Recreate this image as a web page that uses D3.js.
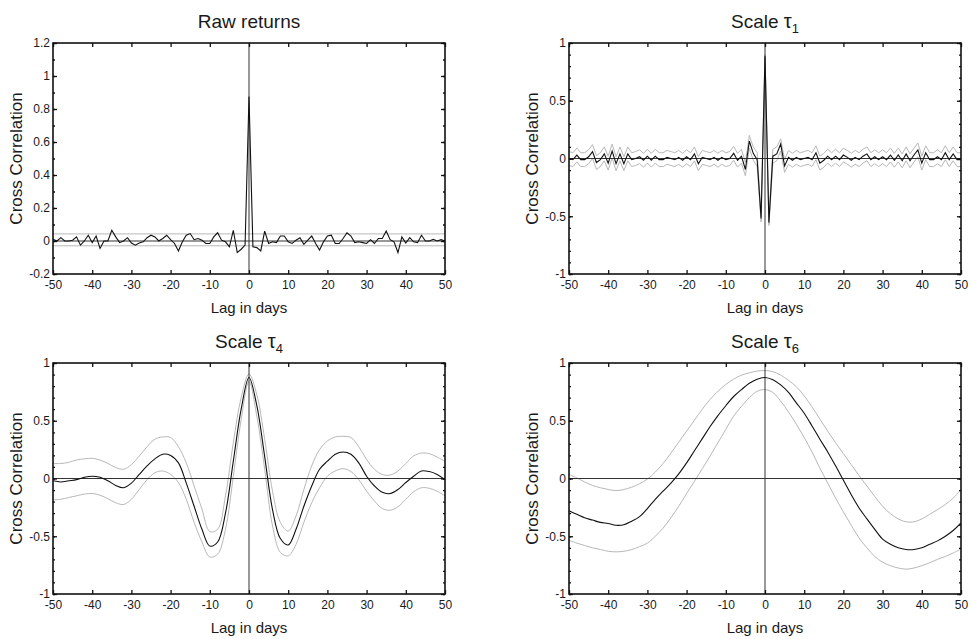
<!DOCTYPE html>
<html>
<head>
<meta charset="utf-8">
<script src="https://cdn.jsdelivr.net/npm/d3@7"></script>
<style>
  body { margin: 0; background: #fff; }
  svg { display: block; font-family: "Liberation Sans", Arial, sans-serif; }
  .tick text { fill: #1a1a1a; }
</style>
</head>
<body>
<svg width="972" height="639"></svg>
<script>
// lags (days)
const lagsDaily = d3.range(-50, 51);
const lagsEven = d3.range(-50, 51, 2);

const xTicks = [-50, -40, -30, -20, -10, 0, 10, 20, 30, 40, 50];
const yTicksRaw = [-0.2, 0, 0.2, 0.4, 0.6, 0.8, 1, 1.2];
const yTicksUnit = [-1, -0.5, 0, 0.5, 1];

// Raw returns: cross correlation per lag, plus the flat confidence band
const rawMain = [
  0.01, 0, 0.02, 0, 0, 0.005, 0.025, -0.025, 0, 0.035,
  -0.01, 0.03, -0.045, 0, 0, 0.065, 0.025, -0.01, 0, 0.02,
  -0.012, -0.025, -0.012, -0.005, 0.02, 0.035, 0.025, 0, 0.015, 0.035,
  0.008, -0.015, -0.06, -0.005, 0.035, 0.045, 0.008, 0.015, 0.005, -0.015,
  -0.015, 0.025, 0.05, 0.005, -0.005, -0.035, 0.065, -0.07, -0.05, -0.025,
  0.875,
  -0.035, -0.04, -0.06, 0.06, -0.015, -0.005, -0.01, 0.03, 0.03, -0.005,
  -0.015, 0.005, 0.02, -0.02, 0.005, 0.03, -0.015, -0.055, -0.005, 0.03,
  0.035, -0.015, -0.015, 0.015, 0.05, 0.03, -0.01, -0.005, -0.01, -0.015,
  0.008, -0.015, 0.015, 0.015, 0.06, 0.008, -0.005, -0.07, 0.025, -0.012,
  0.02, -0.005, -0.01, 0.035, 0, 0, 0.01, 0, 0.008, 0
];
const rawBandLags = [-50, 50];
const rawUpper = [0.043, 0.043];
const rawLower = [-0.029, -0.029];

// Scale tau1
const tau1Main = [
  0, -0.01, 0.03, -0.01, -0.01, 0.015, 0.06, -0.035, -0.01, 0.04,
  -0.04, 0.065, -0.045, 0.04, -0.045, 0.04, -0.01, 0, 0.015, -0.015,
  0.02, -0.015, 0.02, -0.01, -0.01, 0.01, 0, -0.01, 0.01, -0.015,
  0.015, -0.01, 0.04, -0.045, 0.01, 0, -0.01, 0.01, -0.015, 0.01,
  -0.01, 0, 0.045, -0.015, 0.02, -0.095, 0.15, 0.045, -0.01, -0.52,
  0.885,
  -0.555, 0.02, 0.04, 0.125, -0.065, 0.01, -0.015, 0.01, -0.01, 0,
  0.01, -0.01, 0.05, -0.04, -0.015, 0.02, -0.01, 0.02, -0.01, 0.03,
  0.01, -0.015, 0.01, -0.01, 0.02, 0.04, -0.01, 0.015, -0.01, 0.015,
  -0.01, 0.03, -0.015, 0.03, -0.02, 0.04, -0.02, 0.03, 0.075, -0.04,
  0.05, -0.01, -0.01, 0.015, -0.01, 0.05, -0.01, 0.04, -0.01, -0.01
];
const tau1Upper = [
  0.06, 0.05, 0.09, 0.05, 0.05, 0.075, 0.12, 0.025, 0.05, 0.10,
  0.02, 0.125, 0.015, 0.10, 0.015, 0.10, 0.05, 0.06, 0.075, 0.045,
  0.08, 0.045, 0.08, 0.05, 0.05, 0.07, 0.06, 0.05, 0.07, 0.045,
  0.075, 0.05, 0.10, 0.015, 0.07, 0.06, 0.05, 0.07, 0.045, 0.07,
  0.05, 0.06, 0.105, 0.045, 0.08, -0.035, 0.2, 0.1, 0.05, -0.48,
  0.9,
  -0.51, 0.08, 0.1, 0.17, -0.01, 0.07, 0.045, 0.07, 0.05, 0.06,
  0.07, 0.05, 0.11, 0.02, 0.045, 0.08, 0.05, 0.08, 0.05, 0.09,
  0.07, 0.045, 0.07, 0.05, 0.08, 0.10, 0.05, 0.075, 0.05, 0.075,
  0.05, 0.09, 0.045, 0.09, 0.04, 0.10, 0.04, 0.09, 0.135, 0.02,
  0.11, 0.05, 0.05, 0.075, 0.05, 0.11, 0.05, 0.10, 0.05, 0.05
];
const tau1Lower = [
  -0.06, -0.07, -0.03, -0.07, -0.07, -0.045, 0, -0.095, -0.07, -0.02,
  -0.10, 0.005, -0.105, -0.02, -0.105, -0.02, -0.07, -0.06, -0.045, -0.075,
  -0.04, -0.075, -0.04, -0.07, -0.07, -0.05, -0.06, -0.07, -0.05, -0.075,
  -0.045, -0.07, -0.02, -0.105, -0.05, -0.06, -0.07, -0.05, -0.075, -0.05,
  -0.07, -0.06, -0.015, -0.075, -0.04, -0.15, 0.09, -0.015, -0.07, -0.55,
  0.86,
  -0.58, -0.04, -0.02, 0.065, -0.12, -0.05, -0.075, -0.05, -0.07, -0.06,
  -0.05, -0.07, -0.01, -0.10, -0.075, -0.04, -0.07, -0.04, -0.07, -0.03,
  -0.05, -0.075, -0.05, -0.07, -0.04, -0.02, -0.07, -0.045, -0.07, -0.045,
  -0.07, -0.03, -0.075, -0.03, -0.08, -0.02, -0.08, -0.03, 0.015, -0.10,
  -0.01, -0.07, -0.07, -0.045, -0.07, -0.01, -0.07, -0.02, -0.07, -0.07
];

// Scale tau4 (every second lag)
const tau4Main = [
  -0.02, -0.03, -0.02, -0.01, 0.01, 0.02, 0.01, -0.02, -0.06, -0.08,
  -0.04, 0.035, 0.11, 0.17, 0.21, 0.2, 0.135, -0.04, -0.24, -0.44,
  -0.585, -0.55, -0.3, 0.15, 0.6, 0.875, 0.63, 0.19, -0.27, -0.52,
  -0.575, -0.44, -0.24, -0.065, 0.08, 0.15, 0.21, 0.23, 0.21, 0.135,
  0.02, -0.065, -0.12, -0.13, -0.095, -0.035, 0.02, 0.065, 0.06, 0.035,
  -0.01
];
const tau4Upper = [
  0.13, 0.13, 0.14, 0.16, 0.17, 0.175, 0.16, 0.13, 0.095, 0.08,
  0.12, 0.195, 0.275, 0.34, 0.36, 0.355, 0.275, 0.135, -0.065, -0.265,
  -0.46, -0.44, -0.15, 0.31, 0.70, 0.905, 0.725, 0.34, -0.11, -0.38,
  -0.455, -0.325, -0.095, 0.11, 0.25, 0.325, 0.36, 0.365, 0.355, 0.275,
  0.165, 0.08, 0.035, 0.03, 0.065, 0.13, 0.195, 0.22, 0.215, 0.185,
  0.15
];
const tau4Lower = [
  -0.185, -0.18, -0.165, -0.15, -0.135, -0.13, -0.145, -0.175, -0.21, -0.225,
  -0.18, -0.095, -0.01, 0.05, 0.065, 0.035, -0.035, -0.18, -0.38, -0.55,
  -0.68, -0.655, -0.44, 0.02, 0.51, 0.84, 0.54, 0.08, -0.41, -0.64,
  -0.67, -0.57, -0.38, -0.21, -0.08, 0.02, 0.065, 0.085, 0.06, -0.01,
  -0.11, -0.195, -0.26, -0.275, -0.245, -0.18, -0.115, -0.08, -0.085, -0.11,
  -0.15
];

// Scale tau6 (every second lag)
const tau6Main = [
  -0.28, -0.31, -0.34, -0.36, -0.38, -0.39, -0.405, -0.40, -0.37, -0.33,
  -0.26, -0.18, -0.11, -0.04, 0.04, 0.135, 0.24, 0.345, 0.45, 0.545,
  0.63, 0.71, 0.77, 0.825, 0.86, 0.875, 0.855, 0.81, 0.745, 0.655,
  0.565, 0.455, 0.34, 0.23, 0.11, -0.015, -0.14, -0.255, -0.35, -0.44,
  -0.525, -0.57, -0.60, -0.615, -0.615, -0.60, -0.57, -0.54, -0.5, -0.45,
  -0.385
];
const tau6Upper = [
  0.035, 0.005, -0.03, -0.06, -0.08, -0.095, -0.105, -0.095, -0.075, -0.045,
  -0.005, 0.055, 0.13, 0.22, 0.315, 0.41, 0.505, 0.6, 0.685, 0.755,
  0.815, 0.86, 0.895, 0.915, 0.93, 0.935, 0.925, 0.895, 0.85, 0.795,
  0.715, 0.62, 0.515, 0.41, 0.31, 0.215, 0.12, 0.025, -0.065, -0.155,
  -0.24, -0.305, -0.35, -0.375, -0.375, -0.35, -0.31, -0.27, -0.225, -0.17,
  -0.095
];
const tau6Lower = [
  -0.535, -0.56, -0.58, -0.60, -0.615, -0.63, -0.635, -0.63, -0.615, -0.59,
  -0.56, -0.5, -0.43, -0.34, -0.24, -0.13, -0.025, 0.085, 0.195, 0.31,
  0.425, 0.54, 0.625, 0.7, 0.755, 0.77, 0.745, 0.67, 0.575, 0.47,
  0.355, 0.23, 0.09, -0.04, -0.17, -0.29, -0.405, -0.515, -0.6, -0.675,
  -0.725, -0.755, -0.775, -0.785, -0.775, -0.755, -0.73, -0.7, -0.675, -0.645,
  -0.61
];

const svg = d3.select('svg');

const panels = [
  {title: 'Raw returns', sub: null, left: 53, top: 43, yDomain: [-0.2, 1.2], yTicks: yTicksRaw, minorStep: 0.1,
   lags: lagsDaily, main: rawMain, bandLags: rawBandLags, upper: rawUpper, lower: rawLower, curve: d3.curveLinear},
  {title: 'Scale ', sub: '1', left: 569, top: 43, yDomain: [-1, 1], yTicks: yTicksUnit, minorStep: 0.1,
   lags: lagsDaily, main: tau1Main, bandLags: lagsDaily, upper: tau1Upper, lower: tau1Lower, curve: d3.curveLinear},
  {title: 'Scale ', sub: '4', left: 53, top: 363, yDomain: [-1, 1], yTicks: yTicksUnit, minorStep: 0.1,
   lags: lagsEven, main: tau4Main, bandLags: lagsEven, upper: tau4Upper, lower: tau4Lower, curve: d3.curveCatmullRom},
  {title: 'Scale ', sub: '6', left: 569, top: 363, yDomain: [-1, 1], yTicks: yTicksUnit, minorStep: 0.1,
   lags: lagsEven, main: tau6Main, bandLags: lagsEven, upper: tau6Upper, lower: tau6Lower, curve: d3.curveCatmullRom}
];

const pw = 392, ph = 231;

panels.forEach((p, i) => {
  const g = svg.append('g').attr('transform', `translate(${p.left},${p.top})`);
  const x = d3.scaleLinear().domain([-50, 50]).range([0, pw]);
  const y = d3.scaleLinear().domain(p.yDomain).range([ph, 0]);

  g.append('clipPath').attr('id', 'clip' + i)
    .append('rect').attr('width', pw).attr('height', ph);
  const plot = g.append('g').attr('clip-path', `url(#clip${i})`);

  const line = d3.line().x(d => x(d[0])).y(d => y(d[1])).curve(p.curve);

  // confidence band
  [p.upper, p.lower].forEach(arr => {
    plot.append('path')
      .datum(p.bandLags.map((l, j) => [l, arr[j]]))
      .attr('d', line)
      .attr('fill', 'none')
      .attr('stroke', '#b8b8b8')
      .attr('stroke-width', 1);
  });

  // zero lines
  plot.append('line')
    .attr('x1', 0).attr('x2', pw).attr('y1', y(0)).attr('y2', y(0))
    .attr('stroke', '#333').attr('stroke-width', 1);
  plot.append('line')
    .attr('x1', x(0)).attr('x2', x(0)).attr('y1', 0).attr('y2', ph)
    .attr('stroke', '#333').attr('stroke-width', 1);

  // main series
  plot.append('path')
    .datum(p.lags.map((l, j) => [l, p.main[j]]))
    .attr('d', line)
    .attr('fill', 'none')
    .attr('stroke', '#111')
    .attr('stroke-width', 1.1);

  // axes, ticks pointing inward
  const minor = d3.range(p.yDomain[0], p.yDomain[1] + 1e-9, p.minorStep);
  const bottom = g.append('g').attr('transform', `translate(0,${ph})`)
    .call(d3.axisBottom(x).tickValues(xTicks).tickSizeInner(-4).tickSizeOuter(0).tickPadding(6).tickFormat(d => String(d)));
  const topAx = g.append('g')
    .call(d3.axisTop(x).tickValues(xTicks).tickSizeInner(-4).tickSizeOuter(0).tickFormat(''));
  const leftAx = g.append('g')
    .call(d3.axisLeft(y).tickValues(p.yTicks).tickSizeInner(-4).tickSizeOuter(0).tickPadding(3).tickFormat(d => String(d)));
  const leftMinor = g.append('g')
    .call(d3.axisLeft(y).tickValues(minor).tickSizeInner(-2).tickSizeOuter(0).tickFormat(''));
  const rightAx = g.append('g').attr('transform', `translate(${pw},0)`)
    .call(d3.axisRight(y).tickValues(p.yTicks).tickSizeInner(-4).tickSizeOuter(0).tickFormat(''));
  const rightMinor = g.append('g').attr('transform', `translate(${pw},0)`)
    .call(d3.axisRight(y).tickValues(minor).tickSizeInner(-2).tickSizeOuter(0).tickFormat(''));

  [bottom, topAx, leftAx, leftMinor, rightAx, rightMinor].forEach(a => {
    a.select('.domain').remove();
    a.selectAll('.tick line').attr('stroke', '#111').attr('stroke-width', 1.3);
    a.selectAll('.tick text').attr('font-size', 12);
  });

  // frame
  g.append('rect')
    .attr('width', pw).attr('height', ph)
    .attr('fill', 'none').attr('stroke', '#111').attr('stroke-width', 1.6);

  // title
  const t = g.append('text')
    .attr('x', pw / 2).attr('y', -15)
    .attr('text-anchor', 'middle')
    .attr('font-size', 19).attr('fill', '#1a1a1a');
  t.append('tspan').text(p.title);
  if (p.sub) {
    t.append('tspan').text('\u03c4').attr('font-size', 20);
    t.append('tspan').text(p.sub).attr('font-size', 13).attr('dy', 5);
  }

  // axis labels
  g.append('text')
    .attr('x', pw / 2).attr('y', ph + 39)
    .attr('text-anchor', 'middle')
    .attr('font-size', 15).attr('fill', '#1a1a1a')
    .text('Lag in days');
  g.append('text')
    .attr('transform', `translate(-31,${ph / 2}) rotate(-90)`)
    .attr('text-anchor', 'middle')
    .attr('font-size', 17).attr('fill', '#1a1a1a')
    .text('Cross Correlation');
});
</script>
</body>
</html>
